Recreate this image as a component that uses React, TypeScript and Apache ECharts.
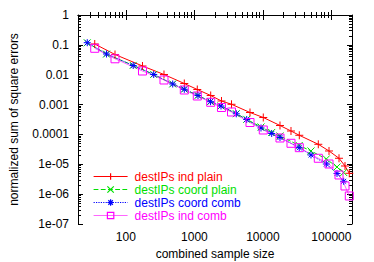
import React, { useEffect, useRef } from "react";
import * as echarts from "echarts";

// ---- data ----
const X_MIN = 20;
const X_MAX = 200000;
const Y_MIN = 1e-7;
const Y_MAX = 1;
const X_TICKS = [100, 1000, 10000, 100000];
const X_TICK_LABELS = ["100", "1000", "10000", "100000"];
const Y_TICKS = [1e-7, 1e-6, 1e-5, 1e-4, 1e-3, 1e-2, 1e-1, 1];
const Y_TICK_LABELS = ["1e-07", "1e-06", "1e-05", "0.0001", "0.001", "0.01", "0.1", "1"];

const SERIES_NAMES = ["destIPs ind plain", "destIPs coord plain", "destIPs coord comb", "destIPs ind comb"];
const SERIES_COLORS = ["#ff0000", "#00e000", "#0000ff", "#ff00ff"];

const indX = [35.1, 69.4, 174.8, 360, 712.8, 1103, 1731, 2488, 3483, 6486, 10140, 17780, 25730, 34020, 64420, 92330, 129200, 158100, 182600];
const indPlainY = [0.1069, 0.04755, 0.01959, 0.01017, 0.00508, 0.0032, 0.002014, 0.001318, 0.001022, 0.000543, 0.000369, 0.0001993, 0.0001304, 9.36e-5, 4.675e-5, 2.79e-5, 1.589e-5, 8.77e-6, 4.996e-6];
const indCombY = [0.0767, 0.03413, 0.01332, 0.006656, 0.003078, 0.001938, 0.001192, 0.0007985, 0.000564, 0.0002511, 0.0001408, 7.6e-5, 5.05e-5, 3.597e-5, 1.589e-5, 1.023e-5, 4.383e-6, 1.877e-6, 8.68e-7];

const coordX = [27.3, 52.1, 127.9, 254.8, 482.6, 712.8, 1129, 1719, 2447, 4093, 5804, 9389, 13450, 17780, 33910, 50420, 84330, 120800, 151300];
const coordPlainY = [0.117, 0.049, 0.0205, 0.0102, 0.0049, 0.00326, 0.00202, 0.00126, 0.0009, 0.000495, 0.00032, 0.0001775, 0.0001161, 8.87e-5, 4.262e-5, 2.79e-5, 1.505e-5, 8.12e-6, 5.31e-6];
const coordCombY = [0.1181, 0.04942, 0.02036, 0.01017, 0.004889, 0.003249, 0.002014, 0.001249, 0.000896, 0.0004912, 0.0003165, 0.0001643, 0.0001075, 7.9e-5, 3.597e-5, 2.049e-5, 1.023e-5, 4.92e-6, 2.696e-6];

const L = Math.log10;
const pts = (xs: number[], ys: number[]) => xs.map((x, i) => [L(x), L(ys[i])]);

function minorTicks(min: number, max: number): number[] {
  const out: number[] = [];
  for (let e = Math.floor(L(min)); e <= Math.ceil(L(max)); e++) {
    for (let k = 2; k <= 9; k++) {
      const v = L(k * Math.pow(10, e));
      if (v > L(min) + 1e-6 && v < L(max) - 1e-6) out.push(v);
    }
  }
  return out;
}

const FONT = "Liberation Sans, Arial, Helvetica, sans-serif";

const SYM_PLUS = "path://M0,5L10,5M5,0L5,10";
const SYM_X = "path://M0,0L10,10M0,10L10,0";
const SYM_STAR = "path://M0,5L10,5M5,0L5,10M1.5,1.5L8.5,8.5M1.5,8.5L8.5,1.5";

export default function App() {
  const ref = useRef<HTMLDivElement>(null);
  useEffect(() => {
    if (!ref.current) return;
    const chart = echarts.init(ref.current, undefined, { renderer: "svg" });
    const xMaj = X_TICKS.map(L);
    const yMaj = Y_TICKS.map(L);
    const xMin = minorTicks(X_MIN, X_MAX);
    const yMin = minorTicks(Y_MIN, Y_MAX);
    const xr = { min: L(X_MIN), max: L(X_MAX) };
    const yr = { min: L(Y_MIN), max: L(Y_MAX) };
    const line = { show: true, lineStyle: { color: "#000", width: 1 } };
    const noLabel = { show: false };
    const mkX = (pos: string, grid: number, ticks: number[], len: number, labels: boolean, extra: any = {}) => ({
      type: "value",
      gridIndex: grid,
      position: pos,
      ...xr,
      axisLine: grid === 0 ? line : { show: false },
      splitLine: { show: false },
      axisTick: { show: true, inside: true, length: len, customValues: ticks, lineStyle: { color: "#000", width: 1 } },
      axisLabel: labels
        ? {
            show: true,
            customValues: xMaj,
            margin: 7,
            fontSize: 12,
            fontFamily: FONT,
            color: "#000",
            formatter: (v: number) => {
              const i = xMaj.findIndex((t) => Math.abs(t - v) < 1e-6);
              return i >= 0 ? X_TICK_LABELS[i] : "";
            },
          }
        : noLabel,
      ...extra,
    });
    const mkY = (pos: string, grid: number, ticks: number[], len: number, labels: boolean, extra: any = {}) => ({
      type: "value",
      gridIndex: grid,
      position: pos,
      ...yr,
      axisLine: grid === 0 ? line : { show: false },
      splitLine: { show: false },
      axisTick: { show: true, inside: true, length: len, customValues: ticks, lineStyle: { color: "#000", width: 1 } },
      axisLabel: labels
        ? {
            show: true,
            customValues: yMaj,
            margin: 9,
            fontSize: 12,
            fontFamily: FONT,
            color: "#000",
            formatter: (v: number) => {
              const i = yMaj.findIndex((t) => Math.abs(t - v) < 1e-6);
              return i >= 0 ? Y_TICK_LABELS[i] : "";
            },
          }
        : noLabel,
      ...extra,
    });
    const gridBox = { left: 78, right: 22, top: 15, bottom: 38, containLabel: false, outerBoundsMode: "none" };
    const ys = [indPlainY, coordPlainY, coordCombY, indCombY];
    const xs = [indX, coordX, coordX, indX];
    const symbols = [SYM_PLUS, SYM_X, SYM_STAR, "rect"];
    const sizes = [8, 7, 7, 8];
    const lineTypes: any[] = ["solid", "dashed", "dotted", "solid"];
    const lineStyleOf = (i: number) => ({
      color: SERIES_COLORS[i],
      width: 1,
      type: lineTypes[i],
      dashOffset: 0,
      opacity: i === 3 ? 0.6 : 1,
    });
    const itemStyleOf = (i: number) => ({ color: "none", borderColor: SERIES_COLORS[i], borderWidth: 1 });
    const option: any = {
      animation: false,
      backgroundColor: "#fff",
      textStyle: { fontFamily: FONT },
      grid: [gridBox, { ...gridBox }],
      xAxis: [
        mkX("bottom", 0, xMaj, 5, true, {
          name: "combined sample size",
          nameLocation: "middle",
          nameGap: 23,
          nameTextStyle: { fontSize: 12, fontFamily: FONT, color: "#000" },
        }),
        mkX("top", 0, xMaj, 5, false),
        mkX("bottom", 1, xMin, 3, false),
        mkX("top", 1, xMin, 3, false),
      ],
      yAxis: [
        mkY("left", 0, yMaj, 5, true, {
          name: "normalized sum of square errors",
          nameLocation: "middle",
          nameGap: 58,
          nameTextStyle: { fontSize: 12, fontFamily: FONT, color: "#000" },
        }),
        mkY("right", 0, yMaj, 5, false),
        mkY("left", 1, yMin, 3, false),
        mkY("right", 1, yMin, 3, false),
      ],
      legend: {
        orient: "vertical",
        left: 93,
        top: 170,
        itemWidth: 34,
        itemHeight: 8,
        itemGap: 0,
        padding: 0,
        selectedMode: false,
        textStyle: { fontSize: 12, lineHeight: 13, fontFamily: FONT, padding: [0, 0, 0, 2] },
        data: SERIES_NAMES.map((n, i) => ({
          name: n,
          textStyle: { color: SERIES_COLORS[i] },
          lineStyle: { ...lineStyleOf(i), width: 1.2 },
          itemStyle: { ...itemStyleOf(i), borderWidth: 1.2 },
        })),
      },
      series: SERIES_NAMES.map((n, i) => ({
        name: n,
        type: "line",
        xAxisIndex: 0,
        yAxisIndex: 0,
        data: pts(xs[i], ys[i]),
        symbol: symbols[i],
        symbolSize: sizes[i],
        showAllSymbol: true,
        lineStyle: lineStyleOf(i),
        itemStyle: itemStyleOf(i),
        emphasis: { disabled: true },
      })),
    };
    chart.setOption(option);
    return () => chart.dispose();
  }, []);
  return <div ref={ref} style={{ position: "fixed", left: 0, top: 0, width: 374, height: 262 }} />;
}
